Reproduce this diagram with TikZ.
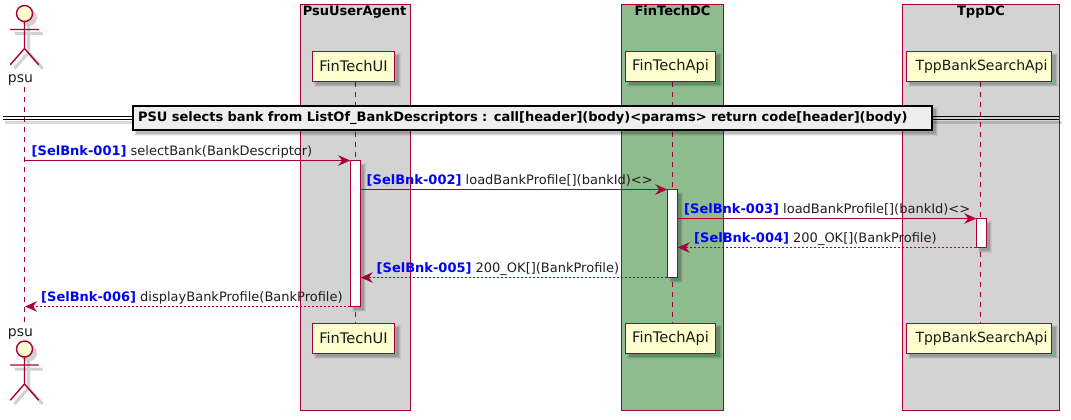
\documentclass[tikz,border=0pt]{standalone}
\usepackage{fontspec}
\setmainfont{DejaVu Sans}
\usetikzlibrary{arrows.meta,calc,backgrounds}
\definecolor{pumlred}{HTML}{A80036}
\definecolor{pumlfill}{HTML}{FEFECE}
\definecolor{boxgray}{HTML}{D3D3D3}
\definecolor{boxgreen}{HTML}{8FBC8F}
\definecolor{divfill}{HTML}{EEEEEE}
\newcommand{\puml}{\fontsize{13}{15}\selectfont}
\newcommand{\pumlname}{\fontsize{14}{16}\selectfont}
\newcommand{\pumlnamebig}{\fontsize{14.6}{16}\selectfont}
\newcommand{\tag}[1]{{\bfseries\color{blue}[SelBnk-#1]}}
\tikzset{
  x=1pt,y=-1pt,
  groupbox/.style={draw=pumlred,line width=1pt,anchor=north west,inner sep=0pt,outer sep=0pt},
  grouptitle/.style={font=\puml\bfseries,text=black,anchor=base,inner sep=0pt},
  part/.style={draw=pumlred,fill=pumlfill,line width=1.2pt,minimum height=30pt,inner sep=0pt,font=\pumlnamebig,text=black!90},
  lifeline/.style={draw=pumlred,line width=.9pt,dash pattern=on 5pt off 5pt},
  actbar/.style={draw=pumlred,fill=white,line width=1pt,minimum width=10.5pt,inner sep=0pt,outer sep=0pt,anchor=north},
  call/.style={draw=pumlred,line width=1pt,-{Stealth[length=12pt,width=10.5pt,inset=4pt]}},
  back/.style={call,dash pattern=on 2pt off 2pt,-{Stealth[length=12pt,width=10.5pt,inset=4pt]}},
  msg/.style={font=\puml,text=black!88,anchor=base west,inner sep=0pt},
  psulabel/.style={font=\pumlname,text=black!88,anchor=base,inner sep=0pt},
  figure/.style={draw=pumlred,line width=1.4pt,line cap=round},
}
\newcommand{\softshadow}[1]{%
  \fill[black,opacity=.06] ($(#1.north west)+(2,2)$) rectangle ($(#1.south east)+(5.5,5.5)$);
  \fill[black,opacity=.09] ($(#1.north west)+(3,3)$) rectangle ($(#1.south east)+(4.5,4.5)$);
  \fill[black,opacity=.14] ($(#1.north west)+(4,4)$) rectangle ($(#1.south east)+(3.5,3.5)$);}
\newcommand{\stick}[2]{%
  \begin{scope}[shift={(#1,#2)}]
    \begin{scope}[shift={(4,4)},draw=black,draw opacity=.18,line width=3pt]
      \fill[black,opacity=.18] (0,0) circle (8.5);
      \draw (-14,16)--(14,16) (0,8)--(0,35) (-14,51)--(0,35)--(14,51);
    \end{scope}
    \draw[figure,fill=pumlfill] (0,0) circle (8);
    \draw[figure] (-14,16)--(14,16) (0,8)--(0,35) (-14,51)--(0,35)--(14,51);
  \end{scope}}
\begin{document}
\begin{tikzpicture}
\useasboundingbox (0,0) rectangle (1071,420);
% participants
\node[part,minimum width=82pt] (uiT) at (353.5,66.3) {FinTechUI};
\node[part,minimum width=90.5pt] (apiT) at (670.5,66.3) {FinTechApi};
\node[part,minimum width=145pt,font=\pumlname] (tppT) at (979,66.3) {\hspace*{5pt}TppBankSearchApi};
\node[part,minimum width=82pt] (uiB) at (353.5,338.3) {FinTechUI};
\node[part,minimum width=90.5pt] (apiB) at (670.5,338.3) {FinTechApi};
\node[part,minimum width=145pt,font=\pumlname] (tppB) at (979,338.3) {\hspace*{5pt}TppBankSearchApi};
% actors
\stick{24.5}{13.5}
\stick{24.5}{349}
\node[psulabel] (psuT) at (20.5,83) {psu};
\node[psulabel] (psuB) at (20.5,336) {psu};
\coordinate (psuTop) at (24.5,87);
\coordinate (psuBot) at (24.5,322);
\coordinate (uiL) at (355.3,200);
\coordinate (apiL) at (672.5,200);
\coordinate (tppL) at (980,200);
\begin{pgfonlayer}{background}
\fill[white] (0,0) rectangle (1071,420);
% group boxes
\node[groupbox,fill=boxgray,minimum width=109.5pt,minimum height=405.5pt] (gUA) at (300.5,4.5) {};
\node[groupbox,fill=boxgreen,minimum width=101.5pt,minimum height=405.5pt] (gDC) at (621.5,4.5) {};
\node[groupbox,fill=boxgray,minimum width=157pt,minimum height=405.5pt] (gTPP) at (902.5,4.5) {};
\node[grouptitle] (tUA) at (354.5,16) {PsuUserAgent};
\node[grouptitle] (tDC) at (672.5,16) {FinTechDC};
\node[grouptitle] (tTPP) at (981,16) {TppDC};
% lifelines
\draw[lifeline] (psuTop) -- (psuBot);
\draw[lifeline] (uiL |- uiT.south) -- (uiL |- uiB.north);
\draw[lifeline] (apiL |- apiT.south) -- (apiL |- apiB.north);
\draw[lifeline] (tppL |- tppT.south) -- (tppL |- tppB.north);
\end{pgfonlayer}
% divider
\coordinate (dl) at (3,118);
\coordinate (dr) at (1059,118);
\fill[black,opacity=.15] (5,121) rectangle (1062,124);
\draw[black,line width=1pt] ($(dl)+(0,-2)$) -- ($(dr)+(0,-2)$) ($(dl)+(0,1)$) -- ($(dr)+(0,1)$);
\node[draw=black,line width=1.6pt,fill=divfill,anchor=center,text width=789pt,align=left,minimum height=24pt,inner xsep=5pt,inner ysep=0pt,font=\puml\bfseries,text=black] (div) at (532.5,118)
  {PSU selects bank from ListOf\_BankDescriptors : call[header](body)<params> return code[header](body)};
% activations
\node[actbar,minimum height=146pt] (aUI) at (355.5,160.5) {};
\node[actbar,minimum height=88pt] (aAPI) at (672.5,189.5) {};
\node[actbar,minimum height=29pt] (aTPP) at (981.5,218.5) {};
% shadows, under every node but over the group boxes and lifelines
\begin{pgfonlayer}{background}
\softshadow{uiT}\softshadow{apiT}\softshadow{tppT}
\softshadow{uiB}\softshadow{apiB}\softshadow{tppB}
\softshadow{div}\softshadow{aUI}\softshadow{aAPI}\softshadow{aTPP}
\end{pgfonlayer}
% messages
\coordinate (psu1) at (24.5,160.5);
\coordinate (psu6) at (25,306.5);
\draw[call] (psu1) -- (aUI.north west);
\draw[call] ($(aUI.north east)+(0,29)$) -- (aAPI.north west);
\draw[call] ($(aAPI.north east)+(0,29)$) -- (aTPP.north west);
\draw[back] (aTPP.south west) -- ($(aAPI.north east)+(0,58)$);
\draw[back] (aAPI.south west) -- ($(aUI.north east)+(0,117)$);
\draw[back] (aUI.south west) -- (psu6);
\node[msg] (m1) at (31.5,155) {\tag{001} selectBank(BankDescriptor)};
\node[msg] (m2) at (366.5,184) {\tag{002} loadBankProfile[](bankId)<>};
\node[msg] (m3) at (684,213) {\tag{003} loadBankProfile[](bankId)<>};
\node[msg] (m4) at (694,242) {\tag{004} 200\_OK[](BankProfile)};
\node[msg] (m5) at (376.5,272) {\tag{005} 200\_OK[](BankProfile)};
\node[msg] (m6) at (41,301) {\tag{006} displayBankProfile(BankProfile)};
\end{tikzpicture}
\end{document}
